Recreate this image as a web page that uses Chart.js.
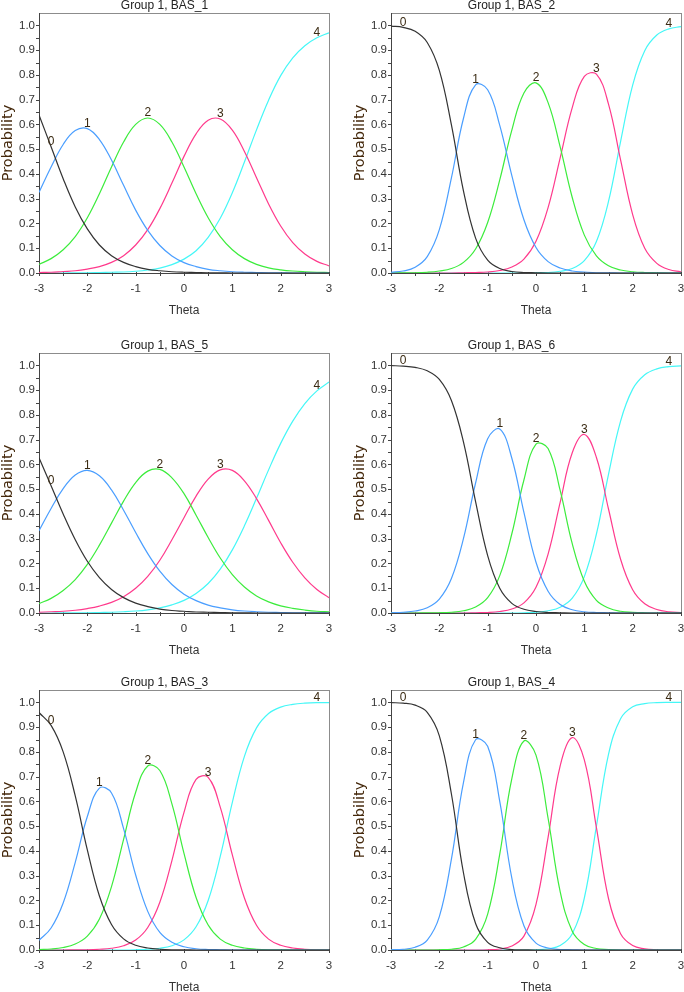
<!DOCTYPE html>
<html>
<head>
<meta charset="utf-8">
<title>Category response curves</title>
<script src="https://cdn.jsdelivr.net/npm/chart.js"></script>
<style>
  html, body { margin: 0; padding: 0; background: #fff; overflow: hidden; }
  body { width: 684px; height: 992px; position: relative; }
  canvas { position: absolute; }
</style>
</head>
<body>
<script>
// theta grid shared by every curve
const theta = [-3, -2.75, -2.5, -2.25, -2, -1.75, -1.5, -1.25, -1, -0.75, -0.5, -0.25, 0,
  0.25, 0.5, 0.75, 1, 1.25, 1.5, 1.75, 2, 2.25, 2.5, 2.75, 3];
const xTicks = [-3, -2, -1, 0, 1, 2, 3];
const yTicks = [0, 0.1, 0.2, 0.3, 0.4, 0.5, 0.6, 0.7, 0.8, 0.9, 1.0];
const categories = ['0', '1', '2', '3', '4'];
const titles = ['Group 1, BAS_1', 'Group 1, BAS_2', 'Group 1, BAS_5', 'Group 1, BAS_6', 'Group 1, BAS_3', 'Group 1, BAS_4'];

// BAS_1
const bas1_0 = [0.638,0.510,0.381,0.267,0.178,0.113,0.070,0.043,0.026,0.015,0.009,0.005,0.003,0.002,0.001,0.001,0,0,0,0,0,0,0,0,0];
const bas1_1 = [0.325,0.428,0.519,0.575,0.583,0.539,0.456,0.354,0.254,0.172,0.111,0.069,0.042,0.026,0.015,0.009,0.005,0.003,0.002,0.001,0.001,0,0,0,0];
const bas1_2 = [0.035,0.058,0.094,0.147,0.223,0.320,0.428,0.529,0.600,0.626,0.600,0.529,0.428,0.320,0.223,0.147,0.094,0.058,0.035,0.021,0.013,0.008,0.005,0.003,0.002];
const bas1_3 = [0.002,0.003,0.006,0.009,0.016,0.026,0.043,0.070,0.113,0.175,0.260,0.363,0.471,0.562,0.617,0.622,0.577,0.491,0.385,0.279,0.190,0.123,0.077,0.047,0.029];
const bas1_4 = [0,0,0,0.001,0.001,0.002,0.003,0.004,0.007,0.012,0.020,0.034,0.056,0.090,0.144,0.221,0.324,0.448,0.578,0.698,0.797,0.869,0.918,0.950,0.970];

// BAS_2
const bas2_0 = [0.997,0.992,0.976,0.931,0.818,0.598,0.331,0.141,0.052,0.018,0.006,0.002,0.001,0,0,0,0,0,0,0,0,0,0,0,0];
const bas2_1 = [0.003,0.008,0.023,0.066,0.175,0.384,0.625,0.760,0.740,0.596,0.393,0.215,0.103,0.046,0.020,0.008,0.004,0.001,0.001,0,0,0,0,0,0];
const bas2_2 = [0,0.001,0.001,0.003,0.008,0.018,0.043,0.097,0.204,0.376,0.577,0.727,0.768,0.688,0.509,0.305,0.153,0.069,0.029,0.012,0.005,0.002,0.001,0,0];
const bas2_3 = [0,0,0,0,0,0,0.001,0.002,0.004,0.010,0.024,0.056,0.128,0.264,0.465,0.668,0.794,0.803,0.682,0.457,0.236,0.100,0.039,0.014,0.005];
const bas2_4 = [0,0,0,0,0,0,0,0,0,0,0,0,0.001,0.002,0.007,0.018,0.050,0.127,0.289,0.531,0.759,0.898,0.961,0.986,0.995];

// BAS_5
const bas5_0 = [0.627,0.514,0.400,0.296,0.209,0.143,0.095,0.062,0.040,0.026,0.016,0.010,0.007,0.004,0.003,0.002,0.001,0.001,0,0,0,0,0,0,0];
const bas5_1 = [0.332,0.422,0.502,0.557,0.576,0.554,0.497,0.415,0.325,0.240,0.169,0.115,0.076,0.050,0.032,0.021,0.013,0.008,0.005,0.003,0.002,0.001,0.001,0.001,0];
const bas5_2 = [0.038,0.059,0.091,0.135,0.196,0.274,0.363,0.452,0.527,0.573,0.580,0.546,0.482,0.395,0.305,0.222,0.155,0.105,0.069,0.045,0.029,0.019,0.012,0.007,0.005];
const bas5_3 = [0.003,0.005,0.007,0.011,0.018,0.028,0.043,0.066,0.100,0.148,0.213,0.296,0.385,0.472,0.541,0.578,0.576,0.534,0.462,0.374,0.284,0.205,0.142,0.095,0.062];
const bas5_4 = [0,0,0.001,0.001,0.001,0.002,0.003,0.005,0.008,0.013,0.021,0.033,0.051,0.079,0.119,0.177,0.255,0.352,0.463,0.578,0.685,0.775,0.846,0.897,0.933];

// BAS_6
const bas6_0 = [0.999,0.997,0.992,0.978,0.943,0.858,0.690,0.450,0.232,0.100,0.039,0.015,0.006,0.002,0.001,0,0,0,0,0,0,0,0,0,0];
const bas6_1 = [0.001,0.003,0.008,0.021,0.056,0.139,0.301,0.525,0.704,0.743,0.625,0.406,0.205,0.088,0.034,0.013,0.005,0.002,0.001,0,0,0,0,0,0];
const bas6_2 = [0,0,0,0.001,0.001,0.003,0.009,0.024,0.062,0.151,0.320,0.537,0.682,0.664,0.495,0.280,0.128,0.051,0.020,0.007,0.003,0.001,0,0,0];
const bas6_3 = [0,0,0,0,0,0,0,0.001,0.002,0.006,0.016,0.041,0.104,0.238,0.447,0.647,0.721,0.628,0.420,0.217,0.094,0.037,0.014,0.005,0.002];
const bas6_4 = [0,0,0,0,0,0,0,0,0,0,0,0.001,0.003,0.009,0.023,0.060,0.147,0.319,0.560,0.775,0.904,0.962,0.986,0.995,0.998];

// BAS_3
const bas3_0 = [0.959,0.907,0.800,0.622,0.404,0.218,0.103,0.045,0.019,0.008,0.003,0.001,0.001,0,0,0,0,0,0,0,0,0,0,0,0];
const bas3_1 = [0.039,0.089,0.190,0.354,0.539,0.654,0.634,0.490,0.303,0.156,0.071,0.031,0.013,0.005,0.002,0.001,0,0,0,0,0,0,0,0,0];
const bas3_2 = [0.002,0.004,0.010,0.024,0.056,0.125,0.256,0.447,0.637,0.743,0.725,0.590,0.390,0.212,0.101,0.044,0.019,0.008,0.003,0.001,0.001,0,0,0,0];
const bas3_3 = [0,0,0,0.001,0.001,0.003,0.007,0.017,0.040,0.091,0.193,0.361,0.556,0.689,0.697,0.577,0.384,0.210,0.100,0.044,0.019,0.008,0.003,0.001,0.001];
const bas3_4 = [0,0,0,0,0,0,0,0,0.001,0.003,0.007,0.017,0.041,0.094,0.200,0.378,0.596,0.782,0.897,0.955,0.981,0.992,0.997,0.999,0.999];

// BAS_4
const bas4_0 = [0.999,0.997,0.989,0.960,0.865,0.630,0.311,0.107,0.031,0.009,0.002,0.001,0,0,0,0,0,0,0,0,0,0,0,0,0];
const bas4_1 = [0.001,0.003,0.011,0.040,0.135,0.367,0.677,0.849,0.823,0.600,0.290,0.098,0.028,0.008,0.002,0.001,0,0,0,0,0,0,0,0,0];
const bas4_2 = [0,0,0,0,0.001,0.003,0.012,0.043,0.145,0.387,0.692,0.844,0.787,0.532,0.236,0.076,0.022,0.006,0.002,0,0,0,0,0,0];
const bas4_3 = [0,0,0,0,0,0,0,0,0.001,0.004,0.016,0.056,0.184,0.455,0.744,0.858,0.768,0.494,0.208,0.066,0.018,0.005,0.001,0,0];
const bas4_4 = [0,0,0,0,0,0,0,0,0,0,0,0,0.001,0.005,0.018,0.066,0.210,0.500,0.790,0.934,0.982,0.995,0.999,1,1];

const panelSeries = [
  [bas1_0, bas1_1, bas1_2, bas1_3, bas1_4],
  [bas2_0, bas2_1, bas2_2, bas2_3, bas2_4],
  [bas5_0, bas5_1, bas5_2, bas5_3, bas5_4],
  [bas6_0, bas6_1, bas6_2, bas6_3, bas6_4],
  [bas3_0, bas3_1, bas3_2, bas3_3, bas3_4],
  [bas4_0, bas4_1, bas4_2, bas4_3, bas4_4]
];

const lineColors = ['#333333', '#4a9eff', '#3cec3c', '#ff3a8c', '#45f7f7'];
const font = 'Liberation Sans, Arial, sans-serif';

// layout of the 2 x 3 grid
const colLeft = [0, 342];
const colWidth = [351, 372];
const padRight = [22, 33];
const axisWidth = [39, 49];
const yTitlePad = [0, 9.7];
const rowTop = [-2, 338, 675];
const canvasHeight = 320;

// plot frame plus small tick marks
const frame = {
  id: 'frame',
  beforeDatasetsDraw(chart) {
    const { ctx, chartArea: a, scales } = chart;
    ctx.save();
    ctx.lineWidth = 1;
    ctx.strokeStyle = '#8c8c8c';
    ctx.strokeRect(Math.round(a.left) + 0.5, Math.round(a.top) + 0.5,
      Math.round(a.right - a.left), Math.round(a.bottom - a.top));
    ctx.strokeStyle = '#444';
    ctx.beginPath();
    ctx.moveTo(Math.round(a.left) + 0.5, a.top);
    ctx.lineTo(Math.round(a.left) + 0.5, Math.round(a.bottom) + 0.5);
    ctx.lineTo(a.right, Math.round(a.bottom) + 0.5);
    for (let v = 0; v <= 1.0001; v += 0.05) {
      const y = Math.round(scales.y.getPixelForValue(v)) + 0.5;
      ctx.moveTo(a.left - 3, y);
      ctx.lineTo(a.left + 1, y);
    }
    for (let v = -3; v <= 3.0001; v += 0.5) {
      const x = Math.round(scales.x.getPixelForValue(v)) + 0.5;
      ctx.moveTo(x, a.bottom - 1);
      ctx.lineTo(x, a.bottom + 3);
    }
    ctx.stroke();
    ctx.restore();
  }
};

// category numbers written on each curve
const curveLabels = {
  id: 'curveLabels',
  afterDatasetsDraw(chart) {
    const { ctx, scales } = chart;
    ctx.save();
    ctx.font = '12px ' + font;
    ctx.fillStyle = '#3a2a12';
    ctx.textAlign = 'center';
    ctx.textBaseline = 'bottom';
    chart.data.datasets.forEach((ds, k) => {
      let idx;
      if (k === 0) idx = 1;
      else if (k === categories.length - 1) idx = ds.data.length - 2;
      else {
        idx = 0;
        ds.data.forEach((p, i) => { if (p.y > ds.data[idx].y) idx = i; });
      }
      const p = ds.data[idx];
      ctx.fillText(ds.label, scales.x.getPixelForValue(p.x), scales.y.getPixelForValue(p.y) + 1);
    });
    ctx.restore();
  }
};

titles.forEach((title, n) => {
  const col = n % 2;
  const row = Math.floor(n / 2);
  const canvas = document.createElement('canvas');
  canvas.width = colWidth[col];
  canvas.height = canvasHeight;
  canvas.style.left = colLeft[col] + 'px';
  canvas.style.top = rowTop[row] + 'px';
  canvas.style.width = colWidth[col] + 'px';
  canvas.style.height = canvasHeight + 'px';
  document.body.appendChild(canvas);

  new Chart(canvas, {
    type: 'line',
    data: {
      datasets: panelSeries[n].map((vals, k) => ({
        label: categories[k],
        data: theta.map((t, i) => ({ x: t, y: vals[i] })),
        borderColor: lineColors[k],
        borderWidth: 1.2,
        pointRadius: 0,
        tension: 0.4,
        fill: false
      }))
    },
    options: {
      responsive: false,
      animation: false,
      devicePixelRatio: 1,
      layout: { padding: { top: 0, left: 0, bottom: 0, right: padRight[col] } },
      plugins: {
        legend: { display: false },
        tooltip: { enabled: false },
        title: {
          display: true,
          text: title,
          color: '#222',
          font: { family: font, size: 12, weight: 'normal', lineHeight: 1.2 },
          padding: { top: 0, bottom: 0.6 }
        }
      },
      scales: {
        x: {
          type: 'linear',
          min: -3,
          max: 3,
          grid: { display: false, drawTicks: false },
          border: { display: false },
          afterBuildTicks: s => { s.ticks = xTicks.map(v => ({ value: v })); },
          afterFit: s => { s.height = 45; },
          ticks: { color: '#333', font: { family: font, size: 11.5 }, padding: 8.5, maxRotation: 0, autoSkip: false },
          title: { display: true, text: 'Theta', color: '#333', font: { family: font, size: 12 }, padding: { top: 0, bottom: 0 } }
        },
        y: {
          min: 0,
          max: 1.05,
          grid: { display: false, drawTicks: false },
          border: { display: false },
          afterBuildTicks: s => { s.ticks = yTicks.map(v => ({ value: v })); },
          afterFit: s => { s.width = axisWidth[col]; },
          ticks: { color: '#333', font: { family: font, size: 11.5 }, padding: 4, autoSkip: false, callback: v => v.toFixed(1) },
          title: {
            display: true,
            text: 'Probability',
            color: '#45290c',
            font: { family: 'DejaVu Sans, sans-serif', size: 14.5 },
            padding: { top: yTitlePad[col], bottom: 0 }
          }
        }
      }
    },
    plugins: [frame, curveLabels]
  });
});
</script>
</body>
</html>
